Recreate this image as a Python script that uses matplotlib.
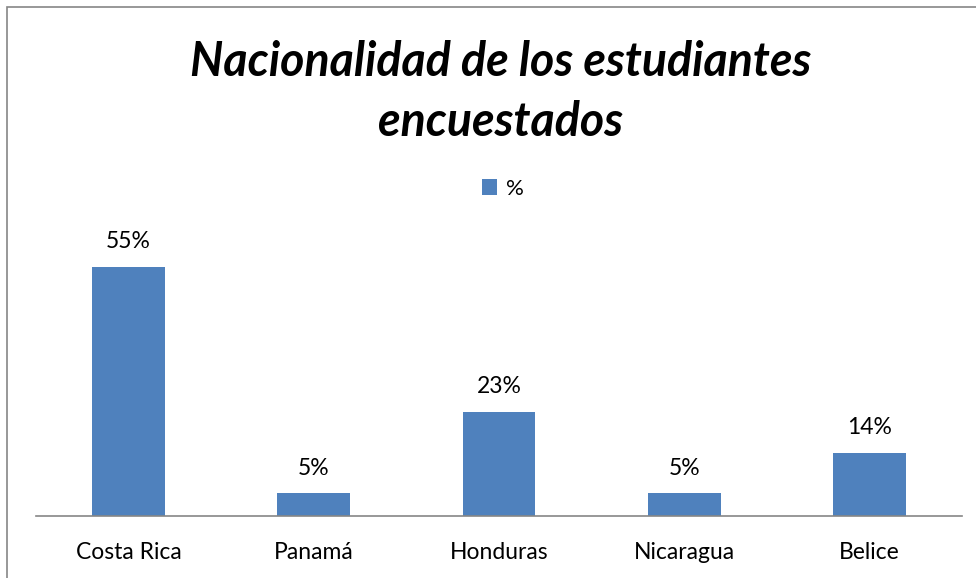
import matplotlib
matplotlib.use('Agg')
import matplotlib.pyplot as plt
from matplotlib.patches import Rectangle

categories = ['Costa Rica', 'Panamá', 'Honduras', 'Nicaragua', 'Belice']
values = [0.55, 0.05, 0.23, 0.05, 0.14]
labels = ['55%', '5%', '23%', '5%', '14%']
series_name = '%'
title = 'Nacionalidad de los estudiantes\nencuestados'

plt.rcParams['font.family'] = ['Lato', 'DejaVu Sans']
blue = '#4F81BD'

fig = plt.figure(figsize=(9.76, 5.78), dpi=100)
W, H = 976, 578

# chart border (only left and top visible in the crop)
fig.patches.append(Rectangle((7 / W, -0.1), 1.2, (H - 7) / H + 0.1,
                             transform=fig.transFigure, fill=False,
                             edgecolor='#868686', linewidth=1.2))

ax = fig.add_axes([36 / W, 62 / H, (962 - 36) / W, (516 - 244) / H])
x = range(len(categories))
bars = ax.bar(x, values, width=0.394, color=blue, label=series_name, zorder=2)
ax.set_xlim(-0.5, len(categories) - 0.5)
ax.set_ylim(0, 0.6)

for b, lab in zip(bars, labels):
    ax.annotate(lab, (b.get_x() + b.get_width() / 2, b.get_height()),
                xytext=(0, 18), textcoords='offset points', ha='center',
                va='center', fontsize=16.5, color='black', annotation_clip=False)

ax.set_xticks(list(x))
ax.set_xticklabels(categories, fontsize=16.5)
ax.tick_params(axis='x', length=0, pad=19)
ax.set_yticks([])
for s in ['top', 'right', 'left']:
    ax.spines[s].set_visible(False)
ax.spines['bottom'].set_color('#868686')
ax.spines['bottom'].set_linewidth(1.2)

fig.text(501 / W, 1 - 92 / H, title, ha='center', va='center',
         fontsize=33.5, fontweight='bold', fontstyle='italic',
         linespacing=1.47)

fig.legend(handles=[bars], labels=[series_name], loc='center',
           bbox_to_anchor=(503 / W, 1 - 189 / H), frameon=False,
           fontsize=16, handlelength=0.7, handleheight=0.7,
           handletextpad=0.4)

fig.savefig('out.png', dpi=100)
